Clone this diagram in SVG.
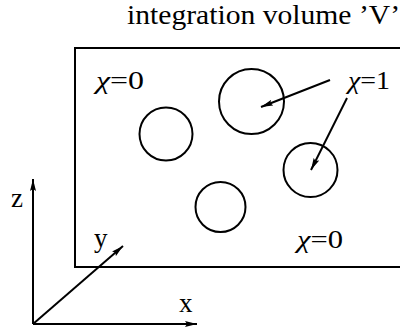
<svg xmlns="http://www.w3.org/2000/svg" width="400" height="334" viewBox="0 0 400 334">
<style>
.ln{fill:none;stroke:#000;stroke-width:2}
.c{fill:none;stroke:#000;stroke-width:2}
text{font-family:"Liberation Serif","Times New Roman",serif;fill:#000}
.chi{font-style:italic}
</style>
<defs>
<marker id="ah" viewBox="0 0 12 6" refX="12" refY="3" markerWidth="12" markerHeight="6" markerUnits="userSpaceOnUse" orient="auto">
<path d="M0,0 L12,3 L0,6 L2,3 z" fill="#000"/>
</marker>
</defs>
<rect width="400" height="334" fill="#fff"/>
<text x="127" y="24" font-size="28" textLength="273" lengthAdjust="spacingAndGlyphs">integration volume ’V’</text>
<g id="volume"><rect x="75" y="48" width="340" height="219" class="ln"/></g>
<g id="sphere1"><circle cx="251.5" cy="101.5" r="32.5" class="c"/></g>
<g id="sphere2"><circle cx="166" cy="134" r="26.5" class="c"/></g>
<g id="sphere3"><circle cx="310.5" cy="170" r="27" class="c"/></g>
<g id="sphere4"><circle cx="220.5" cy="207" r="25" class="c"/></g>
<g id="labels" font-size="25">
<text x="96" y="89" textLength="48" lengthAdjust="spacingAndGlyphs"><tspan class="chi">χ</tspan>=0</text>
<text x="348" y="89" textLength="42" lengthAdjust="spacingAndGlyphs"><tspan class="chi">χ</tspan>=1</text>
<text x="297" y="248" textLength="46" lengthAdjust="spacingAndGlyphs"><tspan class="chi">χ</tspan>=0</text>
</g>
<g id="axes-labels" font-size="27">
<text x="11" y="207">z</text>
<text x="94" y="247">y</text>
<text x="179" y="312">x</text>
</g>
<g id="connectors">
<line x1="330" y1="80" x2="261" y2="107" class="ln" marker-end="url(#ah)"/>
<line x1="347" y1="98" x2="311" y2="170" class="ln" marker-end="url(#ah)"/>
<line x1="33" y1="324" x2="33" y2="179" class="ln" marker-end="url(#ah)"/>
<line x1="33" y1="324" x2="197" y2="324" class="ln" marker-end="url(#ah)"/>
<line x1="33" y1="324" x2="123" y2="246" class="ln" marker-end="url(#ah)"/>
</g>
</svg>
